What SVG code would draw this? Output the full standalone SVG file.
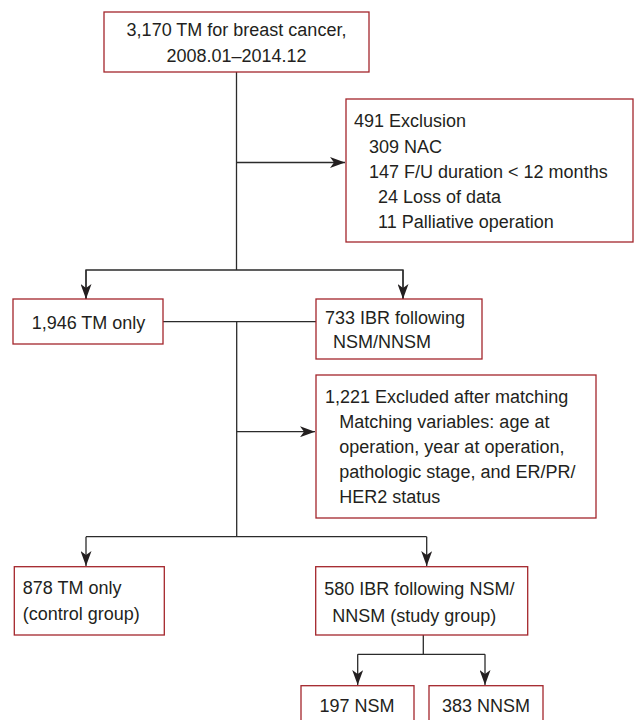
<svg xmlns="http://www.w3.org/2000/svg" width="635" height="720" viewBox="0 0 635 720">
<style>
.box{fill:#fff;stroke:#a4252b;stroke-width:1.3}
.t{font-family:"Liberation Sans",Arial,Helvetica,sans-serif;font-size:18px;fill:#231f20}
.m{text-anchor:middle}
.c{fill:none;stroke:#2b2b2b;stroke-width:1.3}
</style>
<defs>
<marker id="ah" markerUnits="userSpaceOnUse" markerWidth="15" markerHeight="11" refX="15" refY="5.5" orient="auto">
<path d="M0,0 L15,5.5 L0,11 L4,5.5 Z" fill="#231f20"/>
</marker>
</defs>
<rect width="635" height="720" fill="#fff"/>
<g id="connectors">
<path class="c" d="M236.5,72 V270"/>
<path class="c" d="M236.5,162.5 H345" marker-end="url(#ah)"/>
<path class="c" d="M86,299 V270 H403 V299" />
<path class="c" d="M86,270 V299" marker-end="url(#ah)"/>
<path class="c" d="M403,270 V299" marker-end="url(#ah)"/>
<path class="c" d="M163,321.7 H316"/>
<path class="c" d="M236.7,321.7 V536.7"/>
<path class="c" d="M236.7,431.7 H315" marker-end="url(#ah)"/>
<path class="c" d="M86,536.7 H426.7"/>
<path class="c" d="M86,536.7 V566" marker-end="url(#ah)"/>
<path class="c" d="M426.7,536.7 V566" marker-end="url(#ah)"/>
<path class="c" d="M423.3,635 V654.3"/>
<path class="c" d="M357.7,654.3 H485"/>
<path class="c" d="M357.7,654.3 V685" marker-end="url(#ah)"/>
<path class="c" d="M485,654.3 V685" marker-end="url(#ah)"/>
</g>
<g id="n_total">
<rect class="box" x="104" y="12" width="265" height="60"/>
<text class="t m" x="236.5" y="36">3,170 TM for breast cancer,</text>
<text class="t m" x="236.5" y="62">2008.01–2014.12</text>
</g>
<g id="n_excl1">
<rect class="box" x="346" y="99" width="287" height="143"/>
<text class="t" x="354" y="126.7">491 Exclusion</text>
<text class="t" x="369" y="152.7">309 NAC</text>
<text class="t" x="369" y="178.3">147 F/U duration &lt; 12 months</text>
<text class="t" x="378" y="203.3">24 Loss of data</text>
<text class="t" x="378" y="228.3">11 Palliative operation</text>
</g>
<g id="n_tm1946">
<rect class="box" x="13" y="299" width="150" height="45"/>
<text class="t m" x="88.5" y="328.5">1,946 TM only</text>
</g>
<g id="n_ibr733">
<rect class="box" x="316" y="299" width="166" height="60"/>
<text class="t" x="325" y="324">733 IBR following</text>
<text class="t" x="333" y="348">NSM/NNSM</text>
</g>
<g id="n_excl2">
<rect class="box" x="316" y="375" width="280" height="143"/>
<text class="t" x="325" y="402.7">1,221 Excluded after matching</text>
<text class="t" x="339.3" y="428.3">Matching variables: age at</text>
<text class="t" x="339.3" y="453.3">operation, year at operation,</text>
<text class="t" x="339.3" y="478.3">pathologic stage, and ER/PR/</text>
<text class="t" x="339.3" y="503.3">HER2 status</text>
</g>
<g id="n_control">
<rect class="box" x="14.3" y="566.7" width="150" height="68.3"/>
<text class="t" x="22.7" y="594">878 TM only</text>
<text class="t" x="22.7" y="620">(control group)</text>
</g>
<g id="n_study">
<rect class="box" x="315.7" y="566.7" width="212" height="68.3"/>
<text class="t" x="324.3" y="595">580 IBR following NSM/</text>
<text class="t" x="332.3" y="621.7">NNSM (study group)</text>
</g>
<g id="n_nsm">
<rect class="box" x="301" y="685.7" width="113" height="45"/>
<text class="t m" x="357" y="711.7">197 NSM</text>
</g>
<g id="n_nnsm">
<rect class="box" x="429" y="685.7" width="114" height="45"/>
<text class="t m" x="486" y="711.7">383 NNSM</text>
</g>
</svg>
